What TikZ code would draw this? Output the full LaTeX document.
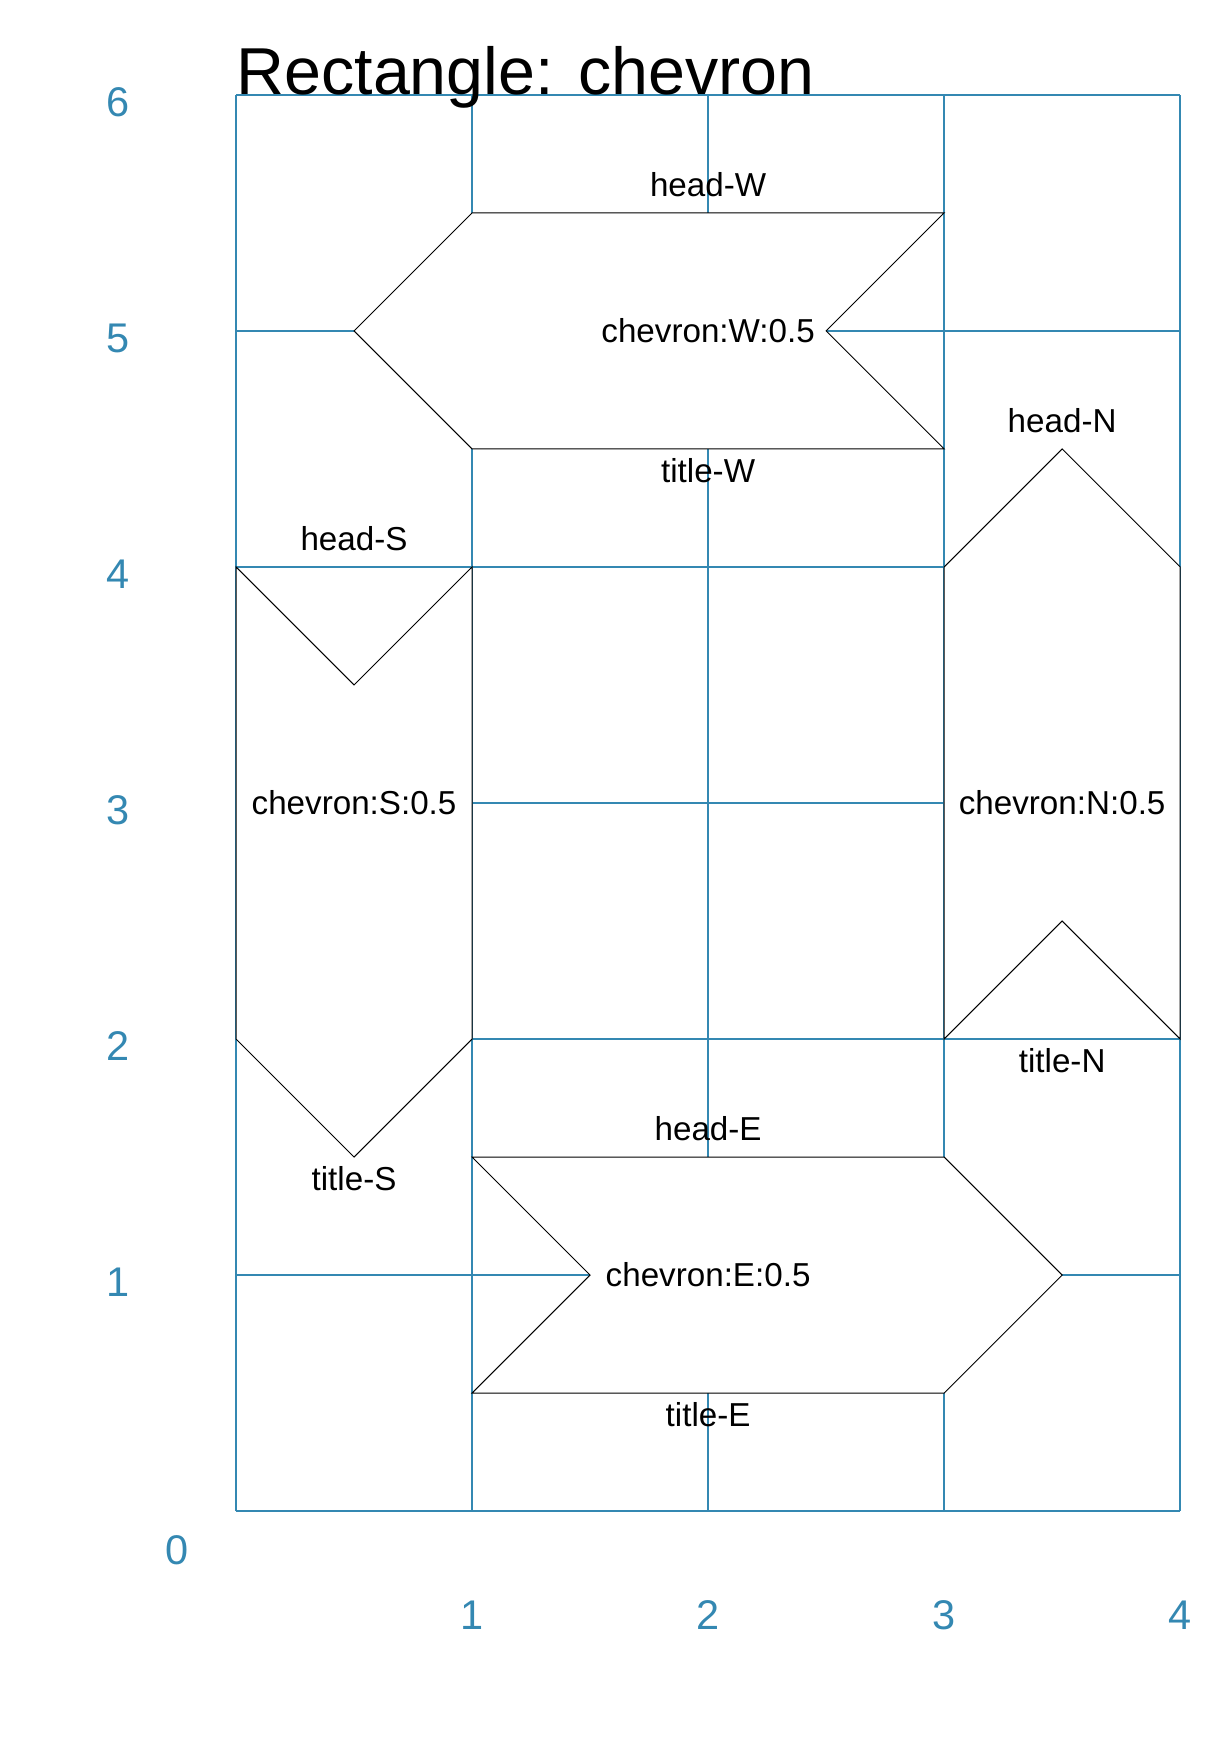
\documentclass[tikz,border=0pt]{standalone}
\usepackage{fontspec}
\setmainfont{Liberation Sans}
\definecolor{gridblue}{RGB}{52,136,178}
\tikzset{
  gridline/.style={gridblue,line width=0.6pt},
  chev/.style={draw=black,fill=white,line width=0.35pt,line join=miter},
  lbl/.style={inner sep=0pt,font=\fontsize{12}{14}\selectfont},
  ticklbl/.style={inner sep=0pt,text=gridblue,font=\fontsize{15}{18}\selectfont}
}
\begin{document}
\begin{tikzpicture}[scale=3]
            \useasboundingbox (-1,-1.008) rectangle (4.205,6.402);
            \def\hd{0.121}
            \def\tl{0.092}
            % grid
            \foreach \i in {0,...,4}
                {\draw[gridline] (\i,0)--(\i,6);}
            \foreach \j in {0,...,6}
                {\draw[gridline] (0,\j)--(4,\j);}
            % axis numbers
            \foreach \j in {1,...,6}
                {\node[ticklbl] (y\j) at (-0.5,{\j-0.03}) {\j};}
            \node[ticklbl] (y0) at (-0.25,-0.165) {0};
            \foreach \i in {1,...,4}
                {\node[ticklbl] (x\i) at (\i,-0.44) {\i};}
            \node[anchor=base west,inner sep=0pt,
                  font=\fontsize{24}{28}\selectfont]
                (title) at (0,6) {Rectangle: chevron};
            % chevron W
            \draw[chev] (1,5.5)--(3,5.5)--(2.5,5)--(3,4.5)--(1,4.5)--(0.5,5)--cycle;
            \node[lbl] (chevW) at (2,5) {chevron:W:0.5};
            \node[lbl] (headW) at (2,{5.5+\hd}) {head-W};
            \node[lbl] (titleW) at (2,{4.5-\tl}) {title-W};
            % chevron S
            \draw[chev] (0,4)--(0.5,3.5)--(1,4)--(1,2)--(0.5,1.5)--(0,2)--cycle;
            \node[lbl] (chevS) at (0.5,3) {chevron:S:0.5};
            \node[lbl] (headS) at (0.5,{4+\hd}) {head-S};
            \node[lbl] (titleS) at (0.5,{1.5-\tl}) {title-S};
            % chevron N
            \draw[chev] (3,4)--(3.5,4.5)--(4,4)--(4,2)--(3.5,2.5)--(3,2)--cycle;
            \node[lbl] (chevN) at (3.5,3) {chevron:N:0.5};
            \node[lbl] (headN) at (3.5,{4.5+\hd}) {head-N};
            \node[lbl] (titleN) at (3.5,{2-\tl}) {title-N};
            % chevron E
            \draw[chev] (1,1.5)--(3,1.5)--(3.5,1)--(3,0.5)--(1,0.5)--(1.5,1)--cycle;
            \node[lbl] (chevE) at (2,1) {chevron:E:0.5};
            \node[lbl] (headE) at (2,{1.5+\hd}) {head-E};
            \node[lbl] (titleE) at (2,{0.5-\tl}) {title-E};
\end{tikzpicture}
\end{document}
